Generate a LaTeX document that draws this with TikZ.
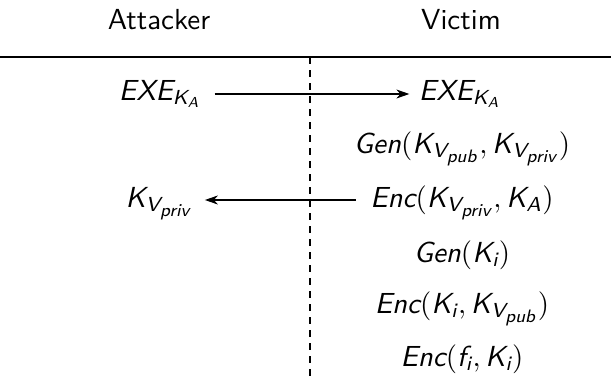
\documentclass[tikz,border=0pt]{standalone}
\usepackage{amsmath}
\usetikzlibrary{arrows.meta}
\renewcommand\familydefault{\sfdefault}
\newcommand\mv[1]{\textsf{\itshape #1}}
\newcommand\sv[1]{\text{\fontsize{6.2}{7}\selectfont\sffamily\itshape #1}}
\begin{document}
\begin{tikzpicture}[x=1pt,y=-1pt,
  every node/.style={font=\fontsize{10}{12}\selectfont, scale=2.9, inner sep=0pt},
  lbl/.style={anchor=base},
  rule/.style={line width=1.1pt},
  msg/.style={line width=1.1pt, -{Stealth[length=13pt,width=9pt,inset=4pt]}}]
\useasboundingbox (0,0) rectangle (611,380);
\node[lbl] (att) at (159,29) {Attacker};
\node[lbl] (vic) at (461,29) {Victim};
\coordinate (hl) at (0,57);
\coordinate (hr) at (611,57);
\draw[rule] (hl) -- (hr);
\coordinate (dt) at (310,57);
\coordinate (db) at (310,380);
\draw[rule, dash pattern=on 7pt off 6pt] (dt) -- (db);
% rows
\node[lbl] (exeA) at (160,100) {$\mv{EXE}_{\mv{K}_{\mv{A}}}$};
\node[lbl] (exeV) at (460,100) {$\mv{EXE}_{\mv{K}_{\mv{A}}}$};
\node[lbl] (gen1) at (462,153) {$\mv{Gen}(\mv{K}_{\mv{V}_{\sv{pub}}}, \mv{K}_{\mv{V}_{\sv{priv}}})$};
\node[lbl] (kpriv) at (159,207) {$\mv{K}_{\mv{V}_{\sv{priv}}}$};
\node[lbl] (enc1) at (462,207) {$\mv{Enc}(\mv{K}_{\mv{V}_{\sv{priv}}}, \mv{K}_{\mv{A}})$};
\node[lbl] (gen2) at (462,262) {$\mv{Gen}(\mv{K}_{\mv{i}})$};
\node[lbl] (enc2) at (462,313) {$\mv{Enc}(\mv{K}_{\mv{i}}, \mv{K}_{\mv{V}_{\sv{pub}}})$};
\node[lbl] (enc3) at (462,366) {$\mv{Enc}(\mv{f}_{\mv{i}}, \mv{K}_{\mv{i}})$};
% arrows
\coordinate (r1) at (0,94);
\coordinate (r2) at (0,200);
\draw[msg, shorten <=13pt, shorten >=9pt] (exeA.east |- r1) -- (exeV.west |- r1);
\draw[msg, shorten <=14pt, shorten >=12pt] (enc1.west |- r2) -- (kpriv.east |- r2);
\end{tikzpicture}
\end{document}
